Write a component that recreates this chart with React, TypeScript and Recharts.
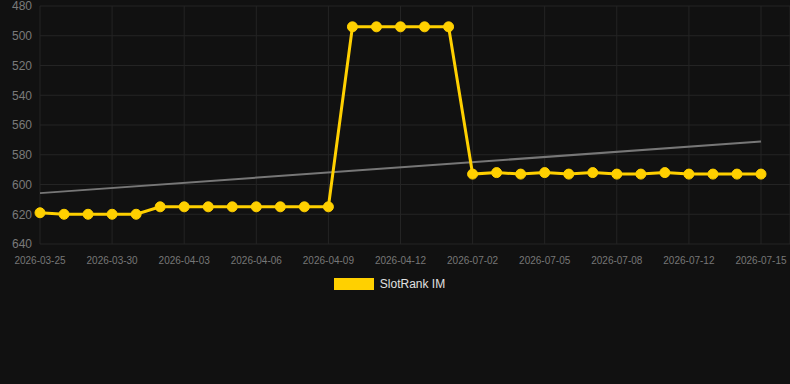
import { LineChart, Line, XAxis, YAxis, CartesianGrid, Legend } from 'recharts';

const dates = [
  '2026-03-25', '2026-03-26', '2026-03-28', '2026-03-30', '2026-03-31', '2026-04-02',
  '2026-04-03', '2026-04-04', '2026-04-05', '2026-04-06', '2026-04-07', '2026-04-08',
  '2026-04-09', '2026-04-10', '2026-04-11', '2026-04-12', '2026-04-13', '2026-04-14',
  '2026-07-02', '2026-07-03', '2026-07-04', '2026-07-05', '2026-07-06', '2026-07-07',
  '2026-07-08', '2026-07-09', '2026-07-11', '2026-07-12', '2026-07-13', '2026-07-14',
  '2026-07-15',
];

const rank = [
  619, 620, 620, 620, 620, 615,
  615, 615, 615, 615, 615, 615,
  615, 494, 494, 494, 494, 494,
  593, 592, 593, 592, 593, 592,
  593, 593, 592, 593, 593, 593,
  593,
];

// trend line endpoints (first and last point only)
const trendStart = 605.8;
const trendEnd = 571.1;

const yTicks = [480, 500, 520, 540, 560, 580, 600, 620, 640];

const data = dates.map((d, i) => ({
  date: d,
  rank: rank[i],
  trend: i === 0 ? trendStart : i === dates.length - 1 ? trendEnd : null,
}));

const renderLegend = () => (
  <div style={{ display: 'flex', justifyContent: 'center', alignItems: 'center', paddingRight: 11, fontFamily: 'Liberation Sans, Arial, sans-serif' }}>
    <span style={{ display: 'inline-block', width: 40, height: 12, background: '#FFD000', marginRight: 6 }} />
    <span style={{ color: '#e0e0e0', fontSize: 12 }}>SlotRank IM</span>
  </div>
);

export default function App() {
  return (
    <div style={{ position: 'absolute', left: 0, top: 0, width: 790, height: 384, background: '#111111' }}>
      <LineChart
        width={790}
        height={384}
        data={data}
        margin={{ top: 6, right: 0, left: 0, bottom: 96 }}
        style={{ fontFamily: 'Liberation Sans, Arial, sans-serif' }}
      >
        <CartesianGrid stroke="#242424" strokeWidth={1} />
        <XAxis
          dataKey="date"
          interval={2}
          axisLine={false}
          tickLine={false}
          tickMargin={7}
          padding={{ left: 0, right: 29 }}
          tick={{ fill: '#777777', fontSize: 10 }}
        />
        <YAxis
          reversed
          domain={[480, 640]}
          ticks={yTicks}
          interval={0}
          width={40}
          axisLine={false}
          tickLine={false}
          tick={{ fill: '#7a7a7a', fontSize: 12 }}
        />
        <Legend content={renderLegend} wrapperStyle={{ top: 277, bottom: 'auto', left: 0, width: 790 }} />
        <Line
          dataKey="trend"
          stroke="#777777"
          strokeWidth={2}
          dot={false}
          connectNulls
          legendType="none"
          isAnimationActive={false}
        />
        <Line
          dataKey="rank"
          name="SlotRank IM"
          stroke="#FFD000"
          strokeWidth={3}
          dot={{ r: 5, fill: '#FFD000', stroke: '#FFD000', strokeWidth: 1 }}
          activeDot={false}
          isAnimationActive={false}
        />
      </LineChart>
    </div>
  );
}
